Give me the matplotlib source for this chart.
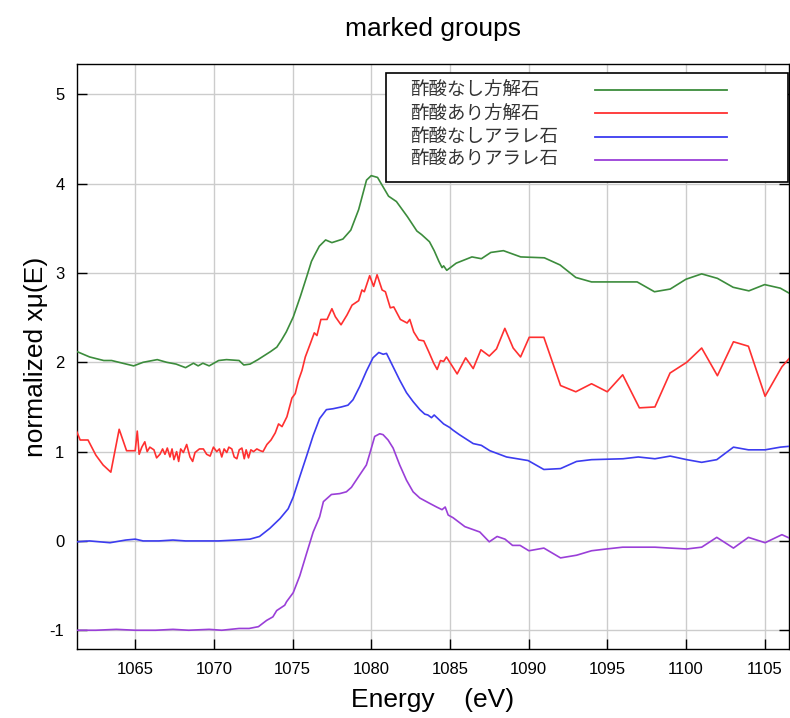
import matplotlib
matplotlib.use("Agg")
import matplotlib.pyplot as plt
from matplotlib.patches import Rectangle
from matplotlib.lines import Line2D

# ---- data ----
calcite_no_acid = [
    (1061.3, 2.12), (1062.1, 2.06), (1063.0, 2.02), (1063.5, 2.02), (1064.2, 1.99), (1064.9, 1.96),
    (1065.5, 2.00), (1066.4, 2.03), (1067.0, 2.00), (1067.6, 1.98), (1068.2, 1.94), (1068.7, 1.99),
    (1069.0, 1.96), (1069.3, 1.99), (1069.7, 1.96), (1070.3, 2.02), (1070.8, 2.03), (1071.6, 2.02),
    (1071.9, 1.97), (1072.3, 1.98), (1072.8, 2.03), (1073.6, 2.12), (1074.0, 2.17), (1074.3, 2.25),
    (1074.6, 2.34), (1075.05, 2.51), (1075.5, 2.74), (1075.9, 2.96), (1076.2, 3.13), (1076.4, 3.20),
    (1076.7, 3.30), (1077.1, 3.37), (1077.5, 3.34), (1078.2, 3.38), (1078.7, 3.48), (1079.2, 3.71),
    (1079.7, 4.04), (1080.0, 4.09), (1080.4, 4.07), (1081.1, 3.86), (1081.6, 3.80), (1082.3, 3.63),
    (1082.9, 3.47), (1083.2, 3.43), (1083.7, 3.35), (1084.0, 3.25), (1084.3, 3.13), (1084.5, 3.06),
    (1084.6, 3.08), (1084.8, 3.03), (1085.4, 3.11), (1086.4, 3.18), (1087.0, 3.16), (1087.6, 3.23),
    (1088.4, 3.25), (1089.5, 3.18), (1091.0, 3.17), (1092.0, 3.09), (1093.0, 2.95), (1094.0, 2.90),
    (1095.8, 2.90), (1096.9, 2.90), (1098.0, 2.79), (1099.0, 2.82), (1100.0, 2.93), (1101.0, 2.99),
    (1102.0, 2.94), (1103.0, 2.84), (1104.0, 2.80), (1105.0, 2.87), (1106.0, 2.83), (1106.6, 2.77),
]

calcite_acid = [
    (1061.27, 1.23), (1061.5, 1.13), (1062.0, 1.13), (1062.5, 0.96), (1062.96, 0.85), (1063.45, 0.77),
    (1063.98, 1.25), (1064.45, 1.01), (1065.0, 1.01), (1065.13, 1.23), (1065.25, 0.97), (1065.42, 1.05),
    (1065.61, 1.11), (1065.76, 1.00), (1065.93, 1.05), (1066.19, 1.02), (1066.36, 0.93), (1066.57, 0.97),
    (1066.74, 1.03), (1066.89, 0.97), (1067.04, 1.04), (1067.21, 0.94), (1067.34, 1.03), (1067.46, 0.91),
    (1067.63, 1.00), (1067.76, 0.89), (1067.89, 1.03), (1068.06, 0.99), (1068.27, 1.08), (1068.48, 0.94),
    (1068.65, 0.89), (1068.80, 0.99), (1069.08, 1.03), (1069.33, 1.03), (1069.54, 0.97), (1069.76, 0.95),
    (1069.97, 1.05), (1070.18, 1.00), (1070.35, 1.03), (1070.50, 0.94), (1070.65, 1.03), (1070.82, 0.99),
    (1070.95, 1.05), (1071.14, 1.03), (1071.29, 0.94), (1071.46, 0.92), (1071.61, 1.02), (1071.78, 1.04),
    (1071.93, 0.92), (1072.05, 1.02), (1072.20, 0.93), (1072.35, 1.02), (1072.52, 1.00), (1072.73, 1.03),
    (1072.95, 1.01), (1073.12, 1.00), (1073.37, 1.08), (1073.63, 1.13), (1073.9, 1.21), (1074.11, 1.31),
    (1074.33, 1.28), (1074.64, 1.39), (1074.96, 1.60), (1075.17, 1.65), (1075.38, 1.80), (1075.6, 1.91),
    (1075.81, 2.06), (1076.13, 2.21), (1076.38, 2.33), (1076.55, 2.30), (1076.8, 2.48), (1077.19, 2.48),
    (1077.5, 2.60), (1077.72, 2.51), (1078.08, 2.42), (1078.46, 2.53), (1078.78, 2.64), (1079.2, 2.69),
    (1079.41, 2.81), (1079.56, 2.79), (1079.9, 2.97), (1080.15, 2.85), (1080.37, 2.98), (1080.69, 2.81),
    (1080.9, 2.79), (1081.21, 2.61), (1081.43, 2.62), (1081.85, 2.48), (1082.28, 2.44), (1082.45, 2.48),
    (1082.7, 2.34), (1083.02, 2.25), (1083.34, 2.24), (1083.65, 2.12), (1083.97, 1.99), (1084.19, 1.92),
    (1084.4, 2.02), (1084.6, 2.01), (1084.78, 2.06), (1085.46, 1.87), (1086.0, 2.05), (1086.48, 1.93),
    (1086.97, 2.14), (1087.5, 2.07), (1087.96, 2.15), (1088.49, 2.38), (1089.02, 2.16), (1089.49, 2.06),
    (1090.04, 2.28), (1090.97, 2.28), (1092.03, 1.74), (1093.0, 1.67), (1094.0, 1.76), (1095.0, 1.67),
    (1095.98, 1.86), (1097.04, 1.49), (1098.03, 1.50), (1098.99, 1.88), (1100.05, 2.00), (1101.0, 2.16),
    (1102.0, 1.85), (1103.02, 2.23), (1103.97, 2.18), (1105.03, 1.62), (1106.1, 1.95), (1106.6, 2.05),
]

aragonite_no_acid = [
    (1061.27, -0.01), (1062.1, 0.00), (1063.4, -0.02), (1064.4, 0.01), (1065.0, 0.02), (1065.5, 0.00),
    (1066.5, 0.00), (1067.4, 0.01), (1068.2, 0.00), (1069.3, 0.00), (1070.3, 0.00), (1071.4, 0.01),
    (1072.29, 0.02), (1072.9, 0.05), (1073.55, 0.14), (1074.2, 0.25), (1074.72, 0.36), (1075.04, 0.49),
    (1075.46, 0.72), (1075.89, 0.95), (1076.31, 1.18), (1076.72, 1.37), (1077.15, 1.47), (1077.57, 1.48),
    (1078.1, 1.50), (1078.52, 1.52), (1078.84, 1.58), (1079.27, 1.73), (1079.69, 1.90), (1080.11, 2.05),
    (1080.48, 2.11), (1080.76, 2.09), (1080.97, 2.10), (1081.39, 1.95), (1081.81, 1.80), (1082.24, 1.66),
    (1082.66, 1.56), (1083.09, 1.47), (1083.4, 1.42), (1083.6, 1.41), (1083.83, 1.38), (1084.0, 1.41),
    (1084.3, 1.36), (1084.6, 1.31), (1084.99, 1.27), (1085.2, 1.24), (1085.6, 1.19), (1086.48, 1.09),
    (1087.0, 1.07), (1087.54, 1.01), (1088.6, 0.94), (1089.97, 0.90), (1090.97, 0.80), (1092.03, 0.81),
    (1093.05, 0.89), (1094.0, 0.91), (1096.0, 0.92), (1096.97, 0.94), (1098.03, 0.92), (1099.0, 0.95),
    (1100.05, 0.91), (1101.0, 0.88), (1101.96, 0.91), (1103.02, 1.05), (1103.97, 1.02), (1105.03, 1.02),
    (1106.0, 1.05), (1106.6, 1.06),
]

aragonite_acid = [
    (1061.27, -1.00), (1062.5, -1.00), (1063.8, -0.99), (1065.0, -1.00), (1066.3, -1.00), (1067.4, -0.99),
    (1068.4, -1.00), (1069.7, -0.99), (1070.5, -1.00), (1071.6, -0.98), (1072.24, -0.98), (1072.83, -0.96),
    (1073.35, -0.89), (1073.75, -0.85), (1073.99, -0.78), (1074.5, -0.72), (1074.62, -0.68), (1075.04, -0.58),
    (1075.46, -0.39), (1075.89, -0.14), (1076.31, 0.10), (1076.72, 0.27), (1076.96, 0.44), (1077.47, 0.52),
    (1078.0, 0.53), (1078.42, 0.55), (1078.74, 0.60), (1079.27, 0.74), (1079.69, 0.85), (1079.91, 0.98),
    (1080.22, 1.17), (1080.54, 1.20), (1080.75, 1.19), (1081.07, 1.13), (1081.39, 1.04), (1081.81, 0.85),
    (1082.24, 0.68), (1082.66, 0.55), (1083.09, 0.48), (1083.72, 0.42), (1084.15, 0.38), (1084.5, 0.35),
    (1084.7, 0.38), (1084.89, 0.29), (1085.2, 0.26), (1085.95, 0.16), (1086.9, 0.10), (1087.5, -0.01),
    (1088.0, 0.05), (1088.5, 0.02), (1088.98, -0.05), (1089.46, -0.05), (1090.02, -0.11), (1090.97, -0.08),
    (1092.03, -0.19), (1093.05, -0.16), (1094.0, -0.11), (1094.95, -0.09), (1095.98, -0.07), (1098.03, -0.07),
    (1099.0, -0.08), (1100.05, -0.09), (1101.0, -0.07), (1101.96, 0.04), (1103.02, -0.08), (1103.97, 0.04),
    (1105.03, -0.02), (1106.1, 0.07), (1106.6, 0.03),
]

series_labels = ["酢酸なし方解石", "酢酸あり方解石", "酢酸なしアラレ石", "酢酸ありアラレ石"]
series_colors = ["#3c8c3c", "#ff3030", "#3c3cf0", "#9a3fd8"]
x_ticks = [1065, 1070, 1075, 1080, 1085, 1090, 1095, 1100, 1105]
y_ticks = [-1, 0, 1, 2, 3, 4, 5]

plt.rcParams['font.family'] = ['Liberation Sans', 'Noto Sans CJK JP', 'DejaVu Sans']
plt.rcParams['axes.unicode_minus'] = False

fig = plt.figure(figsize=(7.9, 7.18), dpi=100)
ax = fig.add_axes([77 / 790, (718 - 649) / 718, 712 / 790, 585 / 718])

all_series = [calcite_no_acid, calcite_acid, aragonite_no_acid, aragonite_acid]
for data, col, lab in zip(all_series, series_colors, series_labels):
    xs = [p[0] for p in data]
    ys = [p[1] for p in data]
    ax.plot(xs, ys, color=col, lw=1.2, label=lab, zorder=3)

ax.set_xlim(1061.3, 1106.55)
ax.set_ylim(-1.21, 5.34)
ax.set_xticks(x_ticks)
ax.set_yticks(y_ticks)
ax.grid(True, color="#cccccc", lw=1.0, zorder=0)
ax.set_axisbelow(True)
ax.tick_params(direction="in", length=7, width=1, labelsize=12, pad=9, colors="black",
               right=True, top=False)
for s in ax.spines.values():
    s.set_linewidth(1.0)
    s.set_color("black")

ax.set_title("marked groups", fontsize=19, pad=20)
ax.set_xlabel("Energy    (eV)", fontsize=19, labelpad=8)
ax.set_ylabel("normalized xμ(E)", fontsize=19, labelpad=1)

# legend box (manual, placed in axes coordinates)
def ax_x(px):
    return (px - 77) / 712

def ax_y(py):
    return (649 - py) / 585

box = Rectangle((ax_x(386), ax_y(182)), ax_x(788) - ax_x(386), ax_y(73) - ax_y(182),
                transform=ax.transAxes, facecolor="white", edgecolor="black", lw=1.2, zorder=5)
ax.add_patch(box)
row_py = [90, 113.3, 136.5, 159.5]
for lab, col, py in zip(series_labels, series_colors, row_py):
    ax.text(ax_x(410), ax_y(py), lab, transform=ax.transAxes, fontsize=13.3,
            family=['Noto Sans CJK JP', 'DejaVu Sans'], color="#333333", va="center", ha="left", zorder=6)
    ax.add_line(Line2D([ax_x(595), ax_x(727)], [ax_y(py), ax_y(py)], transform=ax.transAxes,
                       color=col, lw=1.3, zorder=6))

fig.savefig("out.png", dpi=100)
